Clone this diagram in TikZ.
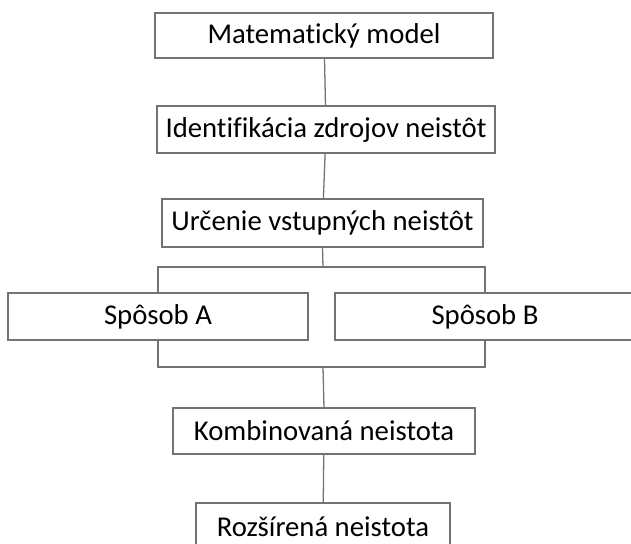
\documentclass[tikz,border=0pt]{standalone}
\usepackage{fontspec}
\setmainfont[Ligatures=NoCommon]{Carlito}
\begin{document}
\begin{tikzpicture}[x=0.03cm,y=-0.03cm,
  krok/.style={draw=gray!90!black,line width=1.1pt,fill=white,rectangle,inner sep=0pt,
    font=\fontsize{24.5}{29}\selectfont},
  spoj/.style={draw=gray!90!black,line width=1.1pt}]
\useasboundingbox[fill=white] (0,0) rectangle (631,544);
\clip (0,0) rectangle (631,544);
\node [krok,minimum width=10.14cm,minimum height=1.35cm] (model) at (324,35.5) {Matematický model}; %Step 1
\node [krok,minimum width=10.14cm,minimum height=1.41cm] (zdroje) at (326,129.5) {Identifikácia zdrojov neistôt}; %Step 2
\node [krok,minimum width=9.63cm,minimum height=1.44cm] (vstupy) at (322.5,223) {Určenie vstupných neistôt}; %Step 3
\node [krok,minimum width=9cm,minimum height=1.41cm] (sposobA) at (158,316.5) {Spôsob A}; %Way A
\node [krok,minimum width=9cm,minimum height=1.41cm] (sposobB) at (485,316.5) {Spôsob B}; %Way B
\node [krok,minimum width=9.06cm,minimum height=1.38cm] (komb) at (324,431) {Kombinovaná neistota}; %Step 4
\node [krok,minimum width=7.62cm,minimum height=1.41cm] (rozs) at (323,526.5) {Rozšírená neistota}; %Step 5
\coordinate (rozdel) at (323,267);
\coordinate (zlucenie) at (323,367);
\draw [spoj] (model) -- (zdroje);
\draw [spoj] (zdroje) -- (vstupy);
\draw [spoj] (vstupy.south) -- (rozdel);
\draw [spoj] (sposobA.north) |- (rozdel) -| (sposobB.north);
\draw [spoj] (sposobA.south) |- (zlucenie) -| (sposobB.south);
\draw [spoj] (zlucenie) -- (komb.north);
\draw [spoj] (komb) -- (rozs);
\end{tikzpicture}
\end{document}
